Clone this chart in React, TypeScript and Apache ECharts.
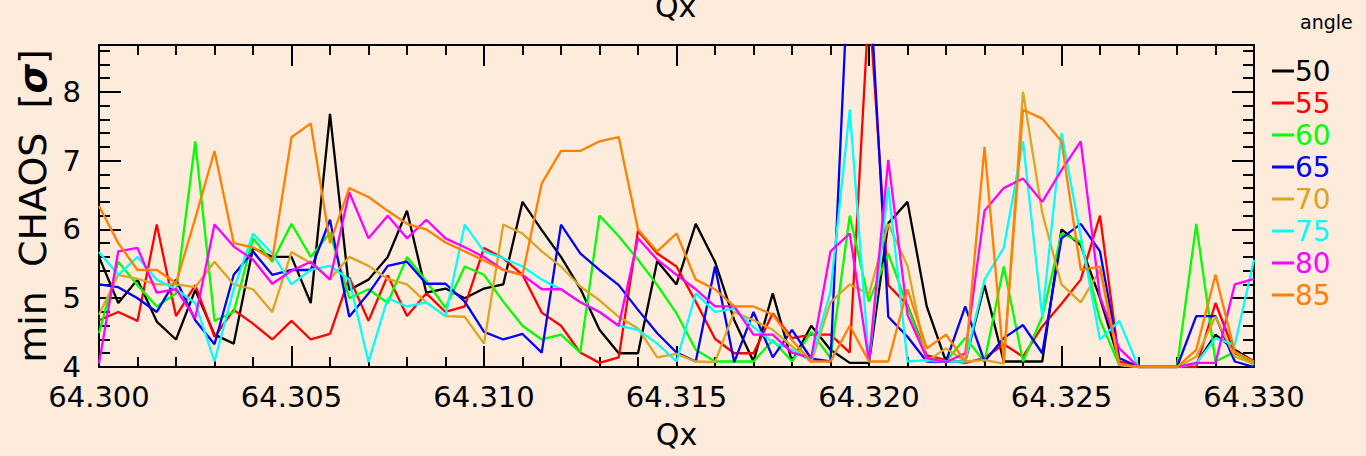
import React, { useEffect, useRef } from "react";
import * as echarts from "echarts";

// Qx sample grid
const qx = [
  64.3, 64.3005, 64.301, 64.3015, 64.302, 64.3025, 64.303, 64.3035, 64.304, 64.3045,
  64.305, 64.3055, 64.306, 64.3065, 64.307, 64.3075, 64.308, 64.3085, 64.309, 64.3095,
  64.31, 64.3105, 64.311, 64.3115, 64.312, 64.3125, 64.313, 64.3135, 64.314, 64.3145,
  64.315, 64.3155, 64.316, 64.3165, 64.317, 64.3175, 64.318, 64.3185, 64.319, 64.3195,
  64.32, 64.3205, 64.321, 64.3215, 64.322, 64.3225, 64.323, 64.3235, 64.324, 64.3245,
  64.325, 64.3255, 64.326, 64.3265, 64.327, 64.3275, 64.328, 64.3285, 64.329, 64.3295,
  64.33,
];

const angles = ["50", "55", "60", "65", "70", "75", "80", "85"];
const angleColors = ["#000000", "#ff0000", "#00ff00", "#0000ff", "#daa520", "#00ffff", "#ff00ff", "#ff7f00"];

const chaos50 = [
  5.6, 4.93, 5.27, 4.66, 4.4, 5.12, 4.47, 4.34, 5.73, 5.6,
  5.6, 4.93, 7.68, 5.12, 5.27, 5.6, 6.27, 5.08, 5.14, 5.0,
  5.14, 5.2, 6.4, 5.99, 5.6, 5.14, 4.54, 4.2, 4.2, 5.54,
  5.2, 6.08, 5.53, 4.68, 4.08, 5.07, 4.08, 4.6, 4.25, 4.06,
  4.06, 6.09, 6.4, 4.88, 4.08, 4.08, 5.19, 4.08, 4.08, 4.08,
  6.0, 5.77, 5.0, 4.08, 4.0, 4.0, 4.0, 4.05, 4.47, 4.25,
  4.08,
];
const chaos55 = [
  4.68, 4.8, 4.67, 6.07, 4.74, 5.19, 4.44, 4.83, 4.63, 4.4,
  4.67, 4.4, 4.48, 5.3, 4.67, 5.33, 4.74, 5.07, 4.8, 4.88,
  5.73, 5.58, 5.34, 4.79, 4.6, 4.21, 4.06, 4.14, 5.98, 5.65,
  5.46, 4.95, 4.41, 4.2, 4.2, 4.78, 4.42, 4.47, 4.47, 4.21,
  9.3, 5.19, 4.9, 4.17, 4.1, 4.06, 4.13, 4.33, 4.15, 4.59,
  4.92, 5.27, 6.2, 4.08, 4.0, 4.0, 4.0, 4.0, 4.93, 4.2,
  4.08,
];
const chaos60 = [
  4.49, 5.53, 5.19, 4.88, 5.07, 7.28, 4.67, 4.8, 5.87, 5.53,
  6.08, 5.6, 5.95, 5.0, 5.13, 4.93, 5.6, 5.25, 4.86, 5.46,
  5.34, 4.95, 4.6, 4.4, 4.47, 4.21, 6.2, 5.9, 5.56, 5.19,
  4.78, 4.25, 4.08, 4.08, 4.08, 4.39, 4.08, 4.51, 4.13, 6.2,
  4.95, 5.65, 4.88, 4.13, 4.08, 4.42, 4.08, 5.46, 4.08, 4.73,
  5.94, 5.82, 4.68, 4.03, 4.0, 4.0, 4.0, 6.08, 4.08, 4.22,
  4.03,
];
const chaos65 = [
  5.2, 5.16, 5.0, 4.8, 5.27, 4.68, 4.33, 5.34, 5.68, 5.34,
  5.41, 5.41, 6.14, 4.73, 5.07, 5.47, 5.53, 5.21, 5.21, 4.95,
  4.51, 4.4, 4.48, 4.21, 6.07, 5.65, 5.41, 5.19, 4.83, 4.49,
  4.21, 4.08, 5.46, 4.07, 4.8, 4.14, 4.54, 4.12, 4.08, 10.2,
  9.8, 4.73, 4.44, 4.08, 4.08, 4.88, 4.08, 4.42, 4.61, 4.2,
  5.87, 6.08, 5.68, 4.13, 4.0, 4.0, 4.0, 4.74, 4.74, 4.08,
  4.0,
];
const chaos70 = [
  4.76, 5.34, 5.28, 5.2, 5.2, 5.16, 5.53, 5.2, 5.13, 4.8,
  5.67, 5.51, 5.28, 5.6, 5.47, 5.28, 5.2, 4.94, 4.74, 4.73,
  4.34, 6.07, 5.94, 5.68, 5.46, 5.17, 4.97, 4.73, 4.56, 4.14,
  4.19, 4.08, 4.07, 4.8, 4.68, 4.54, 4.3, 4.07, 4.94, 5.2,
  5.06, 6.08, 5.47, 4.08, 4.27, 4.08, 4.1, 4.05, 8.0, 6.24,
  5.2, 4.94, 5.41, 4.03, 4.0, 4.0, 4.0, 4.15, 4.73, 4.15,
  4.05,
];
const chaos75 = [
  5.67, 5.34, 5.6, 5.27, 5.13, 4.93, 4.08, 5.13, 5.94, 5.65,
  5.2, 5.41, 5.47, 5.27, 4.07, 5.0, 4.88, 4.94, 4.74, 6.07,
  5.68, 5.58, 5.46, 5.27, 5.13, 4.95, 4.8, 4.6, 4.54, 4.34,
  4.08, 5.07, 4.8, 4.85, 4.58, 4.36, 4.25, 4.1, 5.1, 7.74,
  4.08, 6.62, 4.08, 4.1, 4.08, 4.08, 5.27, 5.73, 7.28, 4.73,
  7.4, 5.9, 4.4, 4.67, 4.0, 4.0, 4.0, 4.05, 4.42, 4.32,
  5.56,
];
const chaos80 = [
  4.05, 5.68, 5.73, 5.08, 5.13, 4.71, 6.07, 5.75, 5.56, 5.21,
  5.4, 5.53, 5.27, 6.54, 5.87, 6.2, 5.87, 6.14, 5.87, 5.74,
  5.6, 5.41, 5.34, 5.13, 5.13, 4.94, 4.8, 4.6, 5.87, 5.56,
  5.34, 5.13, 4.88, 4.88, 4.47, 4.47, 4.21, 4.13, 5.68, 5.94,
  4.08, 7.01, 4.76, 4.13, 4.07, 4.2, 6.27, 6.6, 6.74, 6.4,
  6.86, 7.28, 5.02, 4.27, 4.0, 4.0, 4.0, 4.06, 4.06, 5.2,
  5.28,
];
const chaos85 = [
  6.34, 5.8, 5.41, 5.41, 5.22, 6.16, 7.14, 5.8, 5.74, 5.56,
  7.34, 7.54, 5.8, 6.6, 6.47, 6.27, 6.08, 6.0, 5.81, 5.68,
  5.55, 5.41, 5.34, 6.67, 7.14, 7.14, 7.28, 7.34, 6.0, 5.68,
  5.94, 5.27, 5.13, 4.88, 4.88, 4.76, 4.39, 4.08, 4.08, 4.6,
  4.08, 4.08, 5.13, 4.27, 4.47, 4.08, 7.2, 4.08, 7.74, 7.61,
  7.28, 5.41, 5.46, 4.05, 4.0, 4.0, 4.0, 4.25, 5.34, 4.22,
  4.08,
];
const chaosByAngle = [chaos50, chaos55, chaos60, chaos65, chaos70, chaos75, chaos80, chaos85];

const yMin = 4;
const yMax = 8.68;
const xMin = 64.3;
const xMax = 64.33;

const FONT = "DejaVu Sans";
const BG = "#fdebdc";

function buildOption(): echarts.EChartsOption {
  const axisLine = { show: true, lineStyle: { color: "#000", width: 2 } };
  const tickStyle = { color: "#000", width: 2 };

  const xCommon = {
    type: "value" as const,
    min: xMin,
    max: xMax,
    interval: 0.005,
    axisLine,
    axisTick: { show: true, inside: true, length: 21, lineStyle: tickStyle },
    minorTick: { show: true, splitNumber: 5, length: 10, lineStyle: tickStyle },
    splitLine: { show: false },
    minorSplitLine: { show: false },
  };

  const yMajor = (position: "left" | "right", labels: boolean) => ({
    type: "value" as const,
    position,
    min: yMin,
    max: yMax,
    interval: 1,
    axisLine,
    axisTick: { show: true, inside: true, length: 22, lineStyle: tickStyle },
    axisLabel: {
      show: labels,
      color: "#000",
      fontFamily: FONT,
      fontSize: 29,
      lineHeight: 24,
      margin: 18,
      showMaxLabel: false,
    },
    splitLine: { show: false },
  });

  const yMinor = (position: "left" | "right") => ({
    type: "value" as const,
    position,
    min: yMin,
    max: yMax,
    interval: 0.2,
    axisLine: { show: false },
    axisTick: { show: true, inside: true, length: 11, lineStyle: tickStyle },
    axisLabel: { show: false },
    splitLine: { show: false },
  });

  return {
    animation: false,
    backgroundColor: BG,
    textStyle: { fontFamily: FONT },
    grid: { left: 99, right: 112, top: 45, bottom: 89 },
    graphic: [
      {
        type: "text",
        left: 655,
        top: -9,
        style: { text: "Qx", fontFamily: FONT, fontSize: 30, fill: "#000" },
      },
      {
        type: "text",
        left: 1300,
        top: 12,
        style: { text: "angle", fontFamily: FONT, fontSize: 19, fill: "#000" },
      },
    ],
    legend: {
      orient: "vertical",
      left: 1267,
      top: 50,
      icon: "rect",
      itemWidth: 22,
      itemHeight: 3,
      itemGap: 0,
      selectedMode: false,
      textStyle: { fontFamily: FONT, fontSize: 28, lineHeight: 32, padding: [0, 0, 0, -4] },
      data: angles.map((a, i) => ({ name: a, textStyle: { color: angleColors[i] } })),
    },
    xAxis: [
      {
        ...xCommon,
        position: "bottom",
        axisLabel: {
          color: "#000",
          fontFamily: FONT,
          fontSize: 29,
          lineHeight: 24,
          margin: 18,
          formatter: (v: number) => v.toFixed(3),
        },
        name: "Qx",
        nameLocation: "middle",
        nameGap: 52,
        nameTextStyle: { color: "#000", fontFamily: FONT, fontSize: 30 },
      },
      {
        ...xCommon,
        position: "top",
        axisLabel: { show: false },
      },
    ],
    yAxis: [
      {
        ...yMajor("left", true),
        name: "min  CHAOS  [{s|σ}]",
        nameLocation: "middle",
        nameGap: 44,
        nameTextStyle: {
          color: "#000",
          fontFamily: FONT,
          fontSize: 38,
          rich: {
            s: { fontFamily: FONT, fontSize: 38, fontWeight: "bold", fontStyle: "italic", color: "#000" },
          },
        },
      },
      yMinor("left"),
      yMajor("right", false),
      yMinor("right"),
    ],
    series: angles.map((a, i) => ({
      name: a,
      type: "line",
      xAxisIndex: 0,
      yAxisIndex: 0,
      showSymbol: false,
      symbol: "none",
      clip: true,
      lineStyle: { color: angleColors[i], width: 2.3 },
      itemStyle: { color: angleColors[i] },
      data: qx.map((x, k) => [x, chaosByAngle[i][k]]),
    })),
  };
}

export default function App() {
  const ref = useRef<HTMLDivElement>(null);

  useEffect(() => {
    document.body.style.margin = "0";
    document.body.style.background = BG;
    const chart = echarts.init(ref.current!, null, { renderer: "svg" });
    chart.setOption(buildOption());
    return () => chart.dispose();
  }, []);

  return (
    <div
      ref={ref}
      style={{ position: "fixed", left: 0, top: 0, width: 1366, height: 456, background: BG }}
    />
  );
}
